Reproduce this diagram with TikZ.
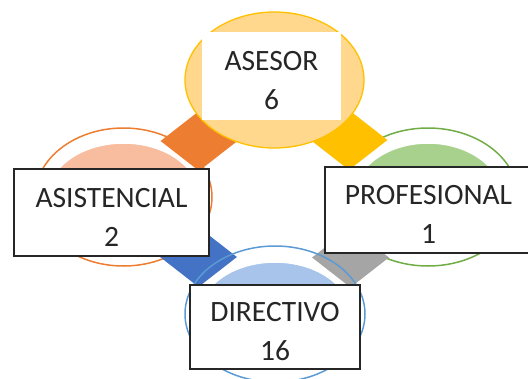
\documentclass[tikz,border=0pt]{standalone}
\usepackage{fontspec}
\setmainfont{Carlito}
\usetikzlibrary{shapes.geometric}

\definecolor{asesorfill}{HTML}{FFD88E}
\definecolor{asesorline}{HTML}{FFC000}
\definecolor{orangeline}{HTML}{ED7D31}
\definecolor{orangecore}{HTML}{F8BC9E}
\definecolor{greenline}{HTML}{70AD47}
\definecolor{greencore}{HTML}{A9D18E}
\definecolor{blueline}{HTML}{5B9BD5}
\definecolor{bluecore}{HTML}{A9C4EB}
\definecolor{bluelink}{HTML}{4472C4}
\definecolor{graylink}{HTML}{A5A5A5}

\newcommand{\cardstrut}{\rule{0pt}{28pt}}

\tikzset{
  ring/.style={ellipse, draw=#1, line width=1.5pt, minimum height=138pt, inner sep=0pt},
  core/.style={ellipse, fill=#1, draw=white, line width=1.5pt, minimum height=108pt, inner sep=0pt},
  link/.style={diamond, fill=#1, minimum width=77pt, minimum height=60pt, inner sep=0pt},
  card/.style={draw=black!85, line width=1.2pt, fill=white, align=center, text=black!85,
    font=\fontsize{29.5}{39}\selectfont, inner sep=0pt},
}

\begin{document}
\begin{tikzpicture}[x=1pt, y=-1pt]
\useasboundingbox (0,0) rectangle (528,378);

% rings under the links
\node[ring=greenline, minimum width=180pt] (profring) at (428,197) {};
\node[core=greencore, minimum width=148pt] (profcore) at (428,197) {};
\node[ring=orangeline, minimum width=177pt] (asisring) at (123.5,197) {};
\node[core=orangecore, minimum width=152pt] (asiscore) at (123.5,197) {};

% links
\node[link=asesorline] (goldlink) at (349,140) {};
\node[link=graylink] (graylink) at (350.5,257.5) {};
\node[link=orangeline] (orangelink) at (199,141) {};
\node[link=bluelink] (bluelink) at (198.5,257) {};

% rings over the links
\node[ring=blueline, minimum width=180pt, minimum height=136pt] (dirring) at (275,314) {};
\node[core=bluecore, minimum width=150pt, minimum height=104pt] (dircore) at (275,314) {};
\node[ellipse, draw=asesorline, fill=asesorfill, line width=1.3pt, minimum width=179pt,
  minimum height=136pt, inner sep=0pt] (asesor) at (274.5,80) {};

% labels
\node[card, draw=none, minimum width=139pt, minimum height=88pt] (asesorcard) at (271.5,76) {\cardstrut ASESOR\\6};
\node[card, minimum width=195pt, minimum height=87pt] (asiscard) at (111.5,212.5) {\cardstrut ASISTENCIAL\\2};
\node[card, minimum width=207pt, minimum height=86pt] (profcard) at (428.5,210) {\cardstrut PROFESIONAL\\1};
\node[card, minimum width=170pt, minimum height=84pt] (dircard) at (275,327) {\cardstrut DIRECTIVO\\16};
\end{tikzpicture}
\end{document}
